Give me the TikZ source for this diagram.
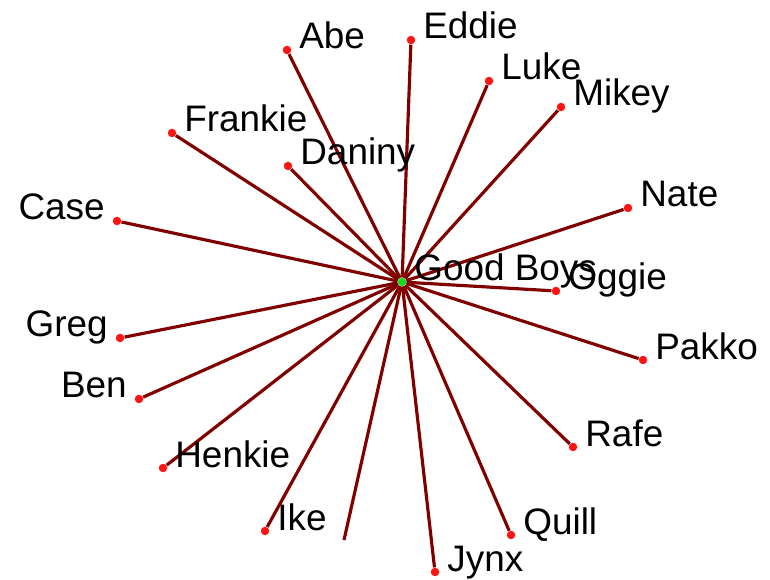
\documentclass[tikz,border=0pt]{standalone}
\usepackage{fontspec}
\setmainfont{Liberation Sans}
\usepackage{tikz}
\usetikzlibrary{arrows.meta,calc}

\definecolor{linkred}{RGB}{128,0,0}
\definecolor{dotred}{RGB}{255,20,20}
\definecolor{dotgreen}{RGB}{20,220,20}

\tikzset{
    dot/.style={circle, fill=dotred, inner sep=0pt, minimum size=0.17cm},
    hub/.style={circle, fill=dotgreen, inner sep=0pt, minimum size=0.17cm},
    link/.style={draw=linkred, line width=1.8pt},
    rlbl/.style={anchor=base west, inner sep=0pt, xshift=0.24cm, yshift=0.02cm},
    llbl/.style={anchor=base east, inner sep=0pt, xshift=-0.24cm, yshift=0.02cm}
}

\begin{document}
\begin{tikzpicture}[x=0.02cm, y=-0.02cm, font=\fontsize{21}{25}\selectfont]
    \useasboundingbox (0,0) rectangle (770,580);

    % 定义节点
    \node[hub] (boys) at (402,282) {};
    \node[dot] (abe) at (287,50) {};
    \node[dot] (eddie) at (411,40) {};
    \node[dot] (luke) at (489,81) {};
    \node[dot] (mikey) at (561,107) {};
    \node[dot] (frankie) at (172,133) {};
    \node[dot] (daniny) at (288,166) {};
    \node[dot] (case) at (117,221) {};
    \node[dot] (nate) at (628,208) {};
    \node[dot] (oggie) at (556,291) {};
    \node[dot] (greg) at (120,338) {};
    \node[dot] (ben) at (139,399) {};
    \node[dot] (pakko) at (643,360) {};
    \node[dot] (rafe) at (573,447) {};
    \node[dot] (henkie) at (163,468) {};
    \node[dot] (ike) at (265,531) {};
    \node[dot] (jynx) at (435,572) {};
    \node[dot] (quill) at (511,535) {};
    \coordinate (cut) at (344,540);

    % 绘制连线
    \draw[link] (boys) -- (abe);
    \draw[link] (boys) -- (eddie);
    \draw[link] (boys) -- (luke);
    \draw[link] (boys) -- (mikey);
    \draw[link] (boys) -- (frankie);
    \draw[link] (boys) -- (daniny);
    \draw[link] (boys) -- (case);
    \draw[link] (boys) -- (nate);
    \draw[link] (boys) -- (oggie);
    \draw[link] (boys) -- (greg);
    \draw[link] (boys) -- (ben);
    \draw[link] (boys) -- (pakko);
    \draw[link] (boys) -- (rafe);
    \draw[link] (boys) -- (henkie);
    \draw[link] (boys) -- (ike);
    \draw[link] (boys) -- (cut);
    \draw[link] (boys) -- (jynx);
    \draw[link] (boys) -- (quill);

    % 绘制标签
    \node[rlbl] (boys-l) at (boys.center) {Good Boys};
    \node[rlbl] (abe-l) at (abe.center) {Abe};
    \node[rlbl] (eddie-l) at (eddie.center) {Eddie};
    \node[rlbl] (luke-l) at (luke.center) {Luke};
    \node[rlbl] (mikey-l) at (mikey.center) {Mikey};
    \node[rlbl] (frankie-l) at (frankie.center) {Frankie};
    \node[rlbl] (daniny-l) at (daniny.center) {Daniny};
    \node[llbl] (case-l) at (case.center) {Case};
    \node[rlbl] (nate-l) at (nate.center) {Nate};
    \node[rlbl] (oggie-l) at (oggie.center) {Oggie};
    \node[llbl] (greg-l) at (greg.center) {Greg};
    \node[llbl] (ben-l) at (ben.center) {Ben};
    \node[rlbl] (pakko-l) at (pakko.center) {Pakko};
    \node[rlbl] (rafe-l) at (rafe.center) {Rafe};
    \node[rlbl] (henkie-l) at (henkie.center) {Henkie};
    \node[rlbl] (ike-l) at (ike.center) {Ike};
    \node[rlbl] (jynx-l) at (jynx.center) {Jynx};
    \node[rlbl] (quill-l) at (quill.center) {Quill};
\end{tikzpicture}
\end{document}
